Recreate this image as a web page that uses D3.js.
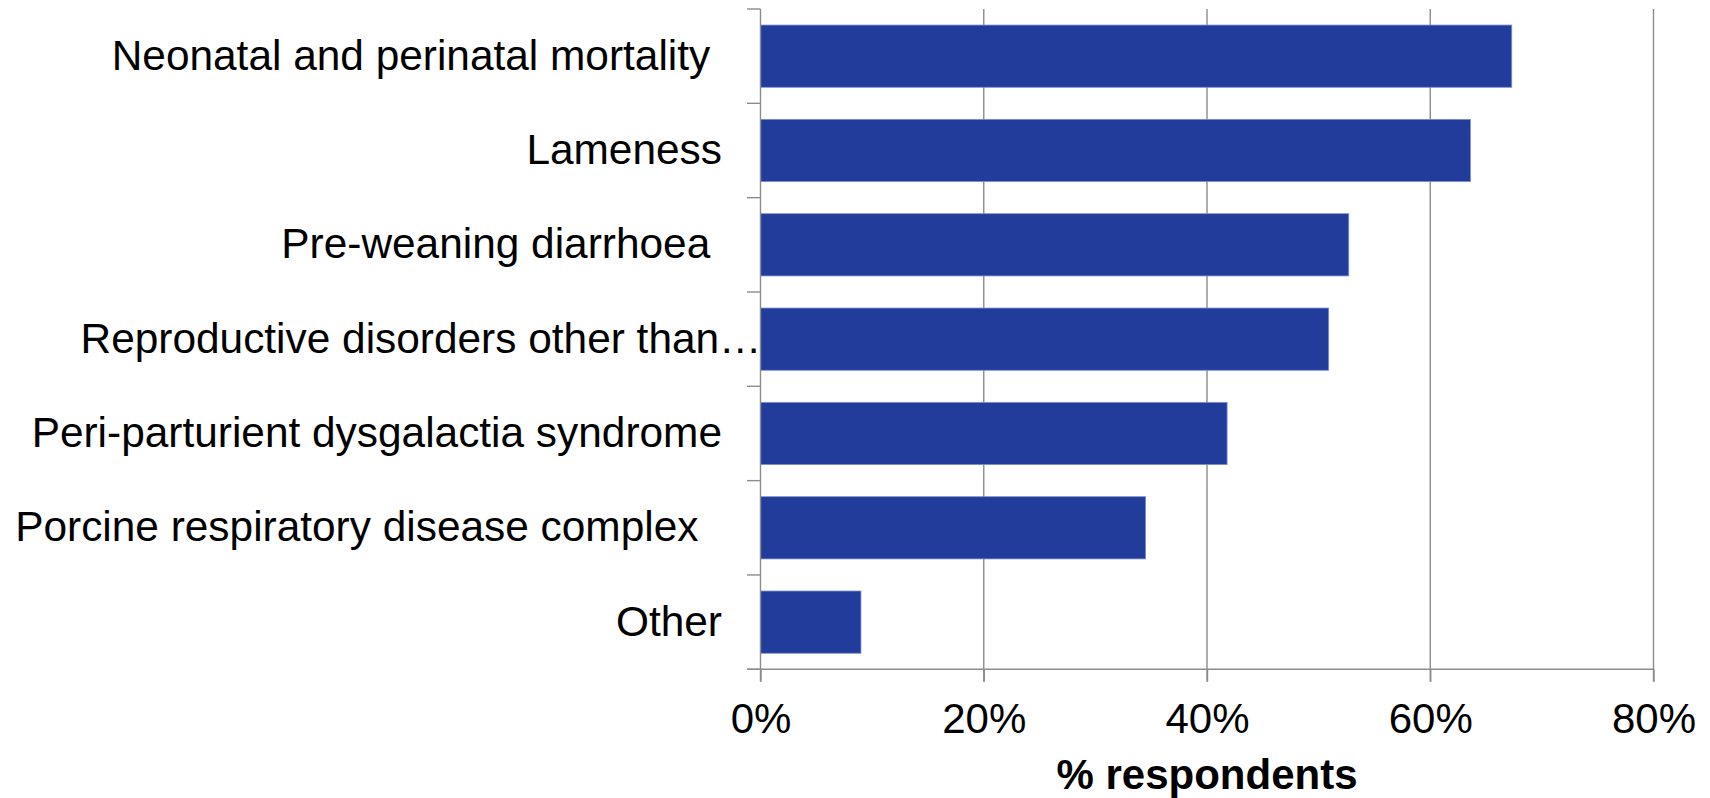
<!DOCTYPE html>
<html>
<head>
<meta charset="utf-8">
<script src="https://cdn.jsdelivr.net/npm/d3@7/dist/d3.min.js"></script>
<style>
  html, body { margin: 0; padding: 0; background: #fff; }
  svg { display: block; font-family: "Liberation Sans", Arial, sans-serif; }
  text { white-space: pre; }
</style>
</head>
<body>
<svg id="chart" width="1710" height="798"></svg>
<script>
// ---- data ----
const categories = [
  "Neonatal and perinatal mortality ",
  "Lameness",
  "Pre-weaning diarrhoea ",
  "Reproductive disorders other than\u2026",
  "Peri-parturient dysgalactia syndrome",
  "Porcine respiratory disease complex  ",
  "Other"
];
const values = [67.3, 63.6, 52.7, 50.9, 41.8, 34.5, 9.0];
const xTicks = [0, 20, 40, 60, 80];
const xTickLabels = ["0%", "20%", "40%", "60%", "80%"];
const xTitle = "% respondents";

(function () {
// ---- layout ----
const plotLeft = 760.5, plotRight = 1653.5, plotTop = 9, plotBottom = 669.3;
const fontSize = 42;
const labelFontSize = 42.4;
const lineColor = "#8c8c8c";
const barColor = "#223c9c";

const svg = d3.select("#chart");

const x = d3.scaleLinear().domain([0, 80]).range([plotLeft, plotRight]);
const y = d3.scaleBand().domain(categories).range([plotTop, plotBottom])
  .paddingInner(0.34).paddingOuter(0.17);

// vertical gridlines (extend below axis as ticks)
svg.append("g").selectAll("line").data(xTicks.slice(1)).join("line")
  .attr("x1", d => x(d)).attr("x2", d => x(d))
  .attr("y1", plotTop).attr("y2", plotBottom + 12.4)
  .attr("stroke", lineColor).attr("stroke-width", 1.4);

// bars
svg.append("g").selectAll("rect").data(categories).join("rect")
  .attr("x", x(0))
  .attr("y", d => y(d))
  .attr("width", (d, i) => x(values[i]) - x(0))
  .attr("height", y.bandwidth())
  .attr("fill", barColor)
  .attr("stroke", "#7e8fd0")
  .attr("stroke-width", 0.8);

// x axis (labels + ticks) via d3 axis
const xAxis = d3.axisBottom(x)
  .tickValues(xTicks)
  .tickFormat((d, i) => xTickLabels[i])
  .tickSizeInner(12.4)
  .tickSizeOuter(0);
const gx = svg.append("g").attr("transform", `translate(0,${plotBottom})`).call(xAxis);
gx.select(".domain").remove();
gx.selectAll(".tick line").attr("stroke", lineColor).attr("stroke-width", 1.4);
gx.selectAll(".tick text")
  .attr("y", 64).attr("dy", 0)
  .attr("fill", "#000")
  .style("font-size", fontSize + "px")
  .style("font-family", "'Liberation Sans', Arial, sans-serif");

// x axis line, extended left to the category tick length
svg.append("line")
  .attr("x1", plotLeft - 13.5).attr("x2", plotRight)
  .attr("y1", plotBottom).attr("y2", plotBottom)
  .attr("stroke", lineColor).attr("stroke-width", 1.4);

// y axis line
svg.append("line")
  .attr("x1", plotLeft).attr("x2", plotLeft)
  .attr("y1", plotTop).attr("y2", plotBottom + 12.4)
  .attr("stroke", lineColor).attr("stroke-width", 1.4);

// y category boundary ticks
const boundaries = d3.range(categories.length + 1).map(i => plotTop + i * y.step());
svg.append("g").selectAll("line").data(boundaries).join("line")
  .attr("x1", plotLeft - 13.5).attr("x2", plotLeft)
  .attr("y1", d => d).attr("y2", d => d)
  .attr("stroke", lineColor).attr("stroke-width", 1.4);

// y category labels
svg.append("g").selectAll("text").data(categories).join("text")
  .attr("xml:space", "preserve")
  .attr("x", d => d.endsWith("\u2026") ? plotLeft + 1 : 722)
  .attr("y", d => y(d) + y.bandwidth() / 2)
  .attr("dy", "0.32em")
  .attr("text-anchor", "end")
  .attr("fill", "#000")
  .style("font-size", labelFontSize + "px")
  .text(d => d);

// x title
svg.append("text")
  .attr("x", (plotLeft + plotRight) / 2)
  .attr("y", 789)
  .attr("text-anchor", "middle")
  .attr("fill", "#000")
  .style("font-size", fontSize + "px")
  .style("font-weight", "bold")
  .text(xTitle);
})();
</script>
</body>
</html>
